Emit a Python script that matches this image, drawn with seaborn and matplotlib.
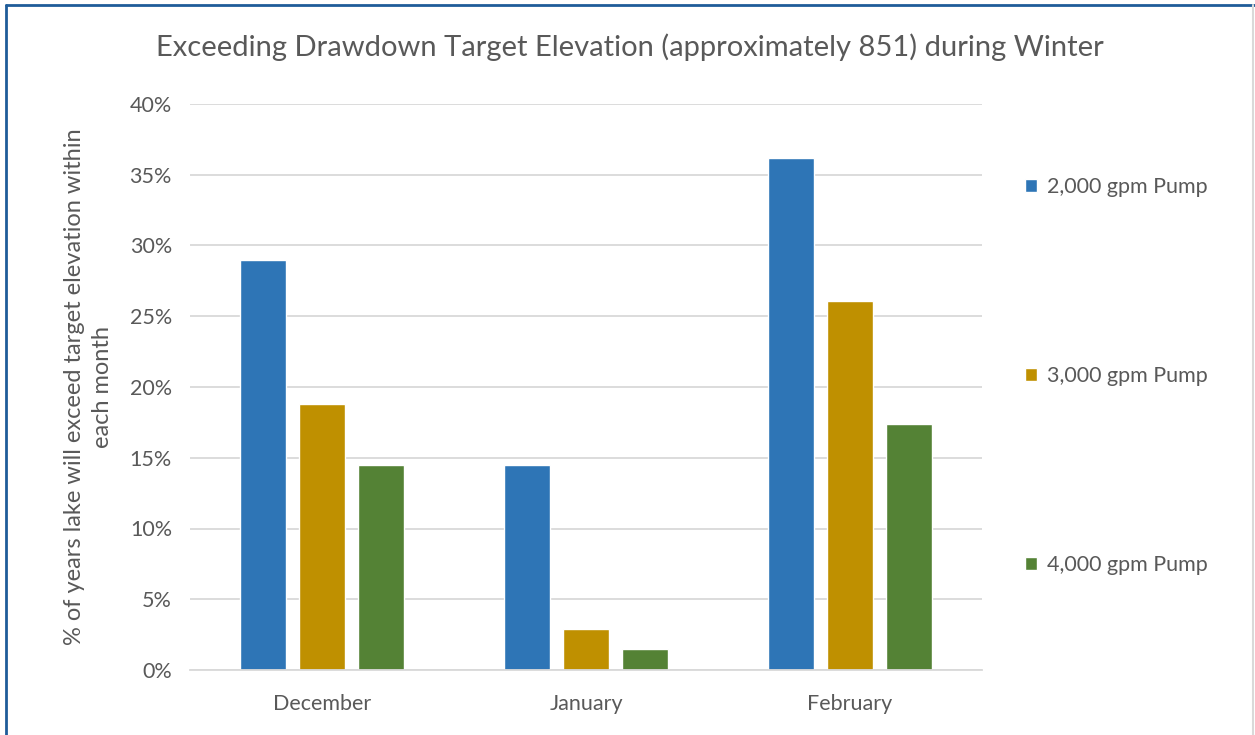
import matplotlib
matplotlib.use("Agg")
import matplotlib.pyplot as plt
from matplotlib.lines import Line2D
from matplotlib.ticker import PercentFormatter
import seaborn as sns
import pandas as pd

# data (share of years, 0-1)
months = ['December', 'January', 'February']
pumps = ['2,000 gpm Pump', '3,000 gpm Pump', '4,000 gpm Pump']
pump_2000 = [0.290, 0.145, 0.362]
pump_3000 = [0.188, 0.029, 0.261]
pump_4000 = [0.145, 0.0145, 0.174]
colors = ['#2E75B6', '#BF9000', '#548235']

rows = []
for pump, vals in zip(pumps, [pump_2000, pump_3000, pump_4000]):
    for m, v in zip(months, vals):
        rows.append([m, pump, v])
df = pd.DataFrame(rows, columns=['Month', 'Pump', 'Share'])

sns.set_theme(style='white')
plt.rcParams['font.family'] = ['Lato', 'DejaVu Sans']
txt = '#595959'

fig = plt.figure(figsize=(12.55, 7.35), dpi=100)
ax = fig.add_axes([190 / 1255, 65 / 735, 792 / 1255, 566 / 735])

sns.barplot(data=df, x='Month', y='Share', hue='Pump', palette=colors,
            width=0.67, gap=0.22, ax=ax, saturation=1, legend=True)

ax.set_ylim(0, 0.4)
ax.set_xlim(-0.5, 2.5)
ax.set_yticks([i * 0.05 for i in range(9)])
ax.yaxis.set_major_formatter(PercentFormatter(1.0, decimals=0))
ax.grid(axis='y', color='#D9D9D9', linewidth=1.3)
ax.set_axisbelow(True)
for s in ['top', 'right', 'left']:
    ax.spines[s].set_visible(False)
ax.spines['bottom'].set_color('#D9D9D9')
ax.spines['bottom'].set_linewidth(1.3)
ax.tick_params(axis='both', length=0, labelsize=15.5, colors=txt)
ax.tick_params(axis='y', pad=13)
ax.tick_params(axis='x', pad=17)
ax.set_xlabel('')
ax.set_ylabel('% of years lake will exceed target elevation within\neach month',
              fontsize=17, color=txt, labelpad=12, linespacing=1.4)

ax.set_title('Exceeding Drawdown Target Elevation (approximately 851) during Winter',
             fontsize=21, color=txt, x=(630 - 190) / 792, y=1.07)

leg = ax.legend(loc='upper left', bbox_to_anchor=(1006 / 1255, 1 - 158 / 735),
                bbox_transform=fig.transFigure, frameon=False, fontsize=15.5,
                handlelength=0.55, handleheight=0.55, handletextpad=0.45,
                labelspacing=7.85)
for t in leg.get_texts():
    t.set_color(txt)

# chart border
fig.add_artist(Line2D([6 / 1255, 6 / 1255], [0, 1 - 5 / 735], color='#1F5C99',
                      lw=2, transform=fig.transFigure))
fig.add_artist(Line2D([6 / 1255, 1], [1 - 5 / 735, 1 - 5 / 735], color='#1F5C99',
                      lw=2, transform=fig.transFigure))
fig.add_artist(Line2D([1253 / 1255, 1253 / 1255], [0, 1 - 5 / 735], color='#D9D9D9',
                      lw=1.5, transform=fig.transFigure))

fig.savefig('out.png', dpi=100)
